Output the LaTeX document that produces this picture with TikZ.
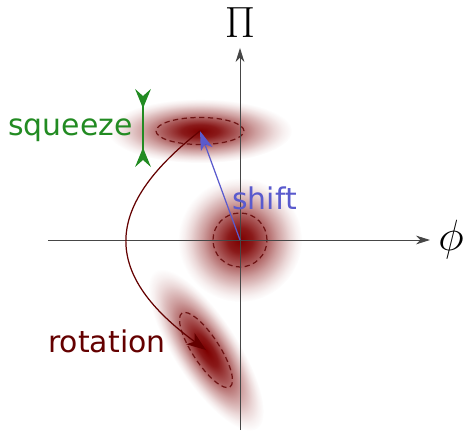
\documentclass[tikz,border=0pt]{standalone}
\usepackage{fontspec}
\usepackage{xcolor}
\usepackage{tikz}
\usetikzlibrary{arrows.meta,fadings}

\newfontfamily\labelfont{DejaVu Sans}

\definecolor{blobred}{RGB}{125,0,0}
\definecolor{ringred}{RGB}{110,20,20}
\definecolor{rotred}{RGB}{100,0,0}
\definecolor{sqgreen}{RGB}{34,139,34}
\definecolor{shblue}{RGB}{90,90,205}
\definecolor{axisgray}{RGB}{70,70,70}

% soft gaussian-like spot
\pgfdeclareradialshading{blobmask}{\pgfpointorigin}{%
  color(0bp)=(white); color(5bp)=(white!90!black); color(10bp)=(white!65!black);
  color(15bp)=(white!38!black); color(20bp)=(white!15!black);
  color(22.5bp)=(white!6!black); color(25bp)=(black); color(50bp)=(black)}
\pgfdeclarefading{blobfade}{\pgfuseshading{blobmask}}

\tikzset{
  blob/.style={blobred,path fading=blobfade},
  ring/.style={ringred,line width=0.7pt,dash pattern=on 3pt off 2pt},
  axis/.style={axisgray,line width=0.5pt,-{Stealth[length=8pt,width=5pt,inset=2.5pt]}},
  lbl/.style={font=\labelfont\fontsize{17}{20}\selectfont,inner sep=0pt},
  squeezebar/.style={sqgreen,line width=0.8pt,
    {Stealth[reversed,length=11pt,width=9pt,inset=4pt]}-{Stealth[reversed,length=11pt,width=9pt,inset=4pt]}},
  shiftarrow/.style={shblue,line width=0.7pt,-{Stealth[length=11pt,width=7pt,inset=3pt]}},
  rotarrow/.style={rotred,line width=0.7pt,-{Stealth[length=11pt,width=8pt,inset=3pt]}}
}

\begin{document}
\begin{tikzpicture}[x=0.02cm,y=0.02cm]
\useasboundingbox (-240,-191) rectangle (223,240);
\coordinate (vac) at (0,0);
\coordinate (sq) at (-40,109);
\coordinate (rot) at (-34,-110);
% states
\fill[blob] (vac) circle [radius=62];
\fill[blob] (sq) ellipse [x radius=92, y radius=32];
\begin{scope}[transform canvas={shift={(rot)},rotate=-57}]
\fill[blob] (0,0) ellipse [x radius=94, y radius=32];
\end{scope}
\draw[ring] (vac) circle [radius=27];
\draw[ring] (sq) ellipse [x radius=44, y radius=13.5];
\draw[ring,rotate around={-57:(rot)}] (rot) ellipse [x radius=44, y radius=13.5];
% axes
\coordinate (xl) at (-192,0);
\coordinate (xr) at (190,0);
\coordinate (yb) at (0,-190);
\coordinate (yt) at (0,192);
\draw[axis] (xl) -- (xr);
\draw[axis] (yb) -- (yt);
\node (philabel) at (211,0) {\Huge$\phi$};
\node (pilabel) at (0,217) {\Huge$\Pi$};
% operations
\coordinate (sqtop) at (-97,151);
\coordinate (sqbot) at (-97,73);
\draw[squeezebar] (sqtop) -- (sqbot);
\draw[shiftarrow] (vac) -- (sq);
\draw[rotarrow] (sq) .. controls (-141,30) and (-135,-36) .. (rot);
\node[lbl,text=sqgreen,anchor=base west] (sqlabel) at (-232,104) {squeeze};
\node[lbl,text=shblue,anchor=base west] (shlabel) at (-8,30) {shift};
\node[lbl,text=rotred,anchor=base west] (rotlabel) at (-192,-113) {rotation};
\end{tikzpicture}
\end{document}
